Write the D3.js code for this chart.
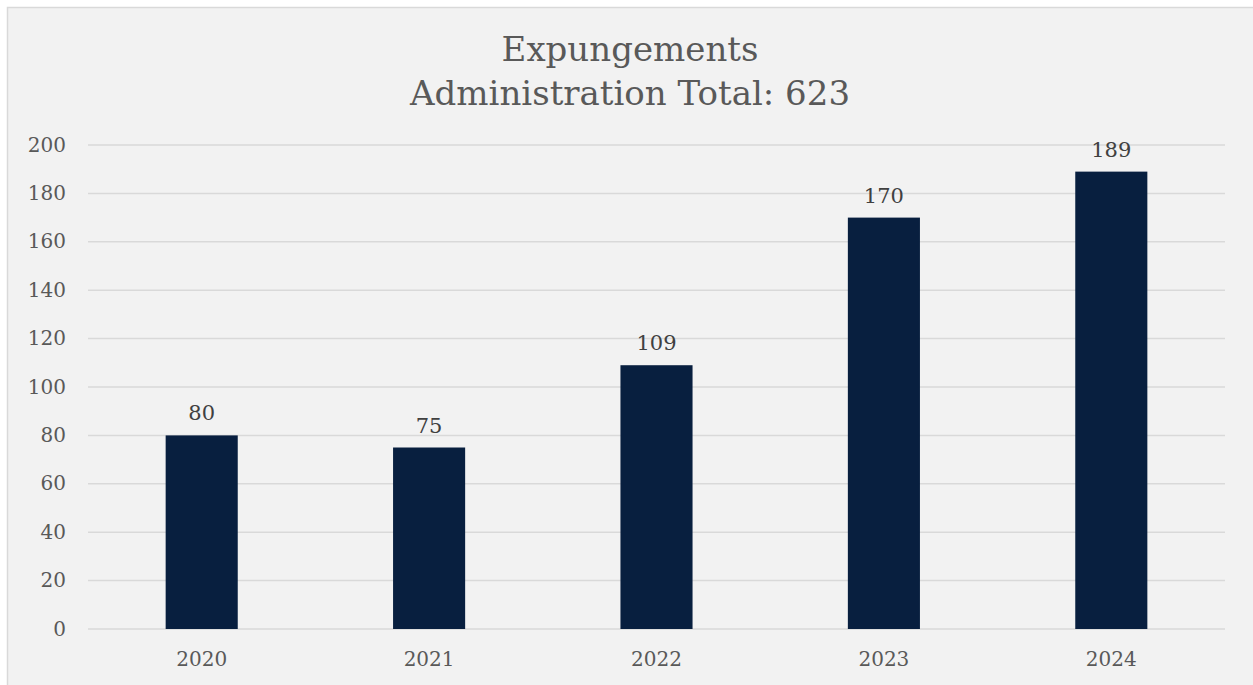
<!DOCTYPE html>
<html><head><meta charset="utf-8">
<script src="https://cdn.jsdelivr.net/npm/d3@7/dist/d3.min.js"></script>
<style>
html,body{margin:0;padding:0;background:#fff;}
svg{display:block;}
text{font-family:"DejaVu Serif","Liberation Serif",serif;}
</style></head><body>
<svg id="chart" width="1253" height="685"></svg>
<script>
const years = ["2020","2021","2022","2023","2024"];
const values = [80,75,109,170,189];
const yTicks = [0,20,40,60,80,100,120,140,160,180,200];
const titleLines = ["Expungements","Administration Total: 623"];

const svg = d3.select("#chart");
const W = 1253, H = 685;
const m = {left:88, right:28, top:145, bottom:56};
svg.append("rect").attr("x",7.5).attr("y",7.5).attr("width",W).attr("height",H)
  .attr("fill","#f2f2f2").attr("stroke","#d9d9d9").attr("stroke-width",1.5);

const x = d3.scaleBand().domain(years).range([m.left, W-m.right]).paddingInner(0.683).paddingOuter(0.3415);
const y = d3.scaleLinear().domain([0,200]).range([H-m.bottom, m.top]);

const g = svg.append("g");
g.selectAll("line.grid").data(yTicks).join("line").attr("class","grid")
  .attr("x1",m.left).attr("x2",W-m.right)
  .attr("y1",d=>y(d)).attr("y2",d=>y(d))
  .attr("stroke","#d9d9d9").attr("stroke-width",1.5);

const yAxis = d3.axisLeft(y).tickValues(yTicks).tickSize(0).tickPadding(0);
const ya = svg.append("g").attr("transform",`translate(${66},0)`).call(yAxis);
ya.select(".domain").remove();
ya.selectAll("text").attr("font-size",20).attr("fill","#595959")
  .attr("font-family","DejaVu Serif").attr("dy","0.3em");

g.selectAll("rect.bar").data(values).join("rect").attr("class","bar")
  .attr("x",(d,i)=>x(years[i])).attr("width",x.bandwidth())
  .attr("y",d=>y(d)).attr("height",d=>y(0)-y(d))
  .attr("fill","#081f3f");

const xAxis = d3.axisBottom(x).tickSize(0).tickPadding(0);
const xa = svg.append("g").attr("transform",`translate(0,${y(0)+31})`).call(xAxis);
xa.select(".domain").remove();
xa.selectAll("text").attr("font-size",20).attr("fill","#595959")
  .attr("font-family","DejaVu Serif").attr("dy","0.3em");

g.selectAll("text.lab").data(values).join("text").attr("class","lab")
  .attr("x",(d,i)=>x(years[i])+x.bandwidth()/2).attr("y",d=>y(d)-15)
  .attr("text-anchor","middle").attr("font-size",21).attr("fill","#404040")
  .text(d=>d);

svg.selectAll("text.title").data(titleLines).join("text").attr("class","title")
  .attr("x",630).attr("y",(d,i)=>61+i*44).attr("text-anchor","middle")
  .attr("font-size",34).attr("fill","#595959").text(d=>d);
</script></body></html>
